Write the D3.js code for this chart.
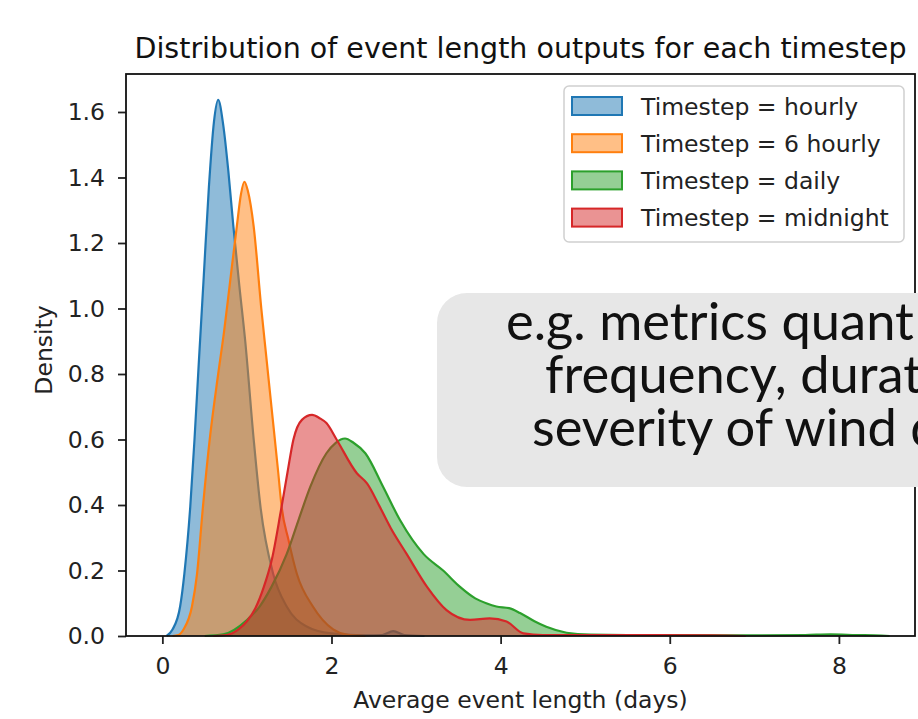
<!DOCTYPE html>
<html>
<head>
<meta charset="utf-8">
<script src="https://cdn.jsdelivr.net/npm/d3@7"></script>
<style>
  body { margin: 0; background: #fff; }
  svg { display: block; }
</style>
</head>
<body>
<div id="chart"></div>
<script>
// densities (x = days, y = density)
const hourlyX = [0.05, 0.12, 0.21, 0.26, 0.33, 0.38, 0.43, 0.49, 0.55, 0.61, 0.66, 0.72, 0.78, 0.84, 0.91, 0.98, 1.08, 1.16, 1.31, 1.47, 1.7, 2.0, 2.4, 2.6, 2.73, 2.86, 3.1];
const hourlyY = [0, 0.02, 0.09, 0.19, 0.395, 0.6, 0.83, 1.1, 1.37, 1.57, 1.637, 1.56, 1.42, 1.25, 1.07, 0.9, 0.6, 0.395, 0.19, 0.09, 0.03, 0.008, 0.002, 0.003, 0.015, 0.003, 0];

const sixHourlyX = [0.12, 0.19, 0.25, 0.35, 0.41, 0.48, 0.56, 0.66, 0.73, 0.8, 0.88, 0.93, 0.97, 1.01, 1.08, 1.17, 1.23, 1.29, 1.37, 1.41, 1.49, 1.59, 1.78, 2.02, 2.18, 2.4];
const sixHourlyY = [0, 0.003, 0.02, 0.09, 0.19, 0.395, 0.6, 0.8, 0.93, 1.08, 1.25, 1.35, 1.387, 1.36, 1.25, 1.0, 0.85, 0.7, 0.5, 0.395, 0.295, 0.19, 0.09, 0.02, 0.004, 0];

const dailyX = [0.5, 0.72, 1.0, 1.15, 1.29, 1.47, 1.61, 1.75, 1.94, 2.05, 2.16, 2.26, 2.4, 2.61, 2.81, 3.09, 3.32, 3.52, 3.7, 3.83, 3.95, 4.1, 4.23, 4.4, 4.54, 4.78, 5.06, 5.5, 6.0, 7.0, 7.6, 7.9, 8.2, 8.5, 8.6];
const dailyY = [0, 0.005, 0.049, 0.09, 0.15, 0.25, 0.354, 0.456, 0.558, 0.59, 0.603, 0.59, 0.558, 0.456, 0.354, 0.25, 0.2, 0.15, 0.115, 0.1, 0.09, 0.085, 0.07, 0.045, 0.028, 0.01, 0.004, 0.003, 0.003, 0.002, 0.003, 0.005, 0.003, 0.001, 0];

const midnightX = [0.6, 0.76, 0.9, 1.0, 1.1, 1.2, 1.3, 1.4, 1.48, 1.55, 1.65, 1.77, 1.86, 1.94, 2.06, 2.3, 2.42, 2.57, 2.7, 2.89, 3.13, 3.36, 3.64, 3.87, 4.07, 4.27, 4.5, 5.5, 6.5, 6.9];
const midnightY = [0, 0.003, 0.02, 0.045, 0.085, 0.15, 0.24, 0.38, 0.5, 0.6, 0.66, 0.675, 0.665, 0.65, 0.6, 0.497, 0.466, 0.395, 0.33, 0.25, 0.15, 0.079, 0.049, 0.054, 0.044, 0.008, 0.003, 0.003, 0.002, 0];

const seriesNames = ["hourly", "6 hourly", "daily", "midnight"];
const seriesColors = ["#1f77b4", "#ff7f0e", "#2ca02c", "#d62728"];
const xTicks = [0, 2, 4, 6, 8];
const yTicks = [0, 0.2, 0.4, 0.6, 0.8, 1.0, 1.2, 1.4, 1.6];
const boxLines = ["e.g. metrics quant", "frequency, durat", "severity of wind d"];

const width = 918;
const height = 719;
const margin = { top: 74, right: 3, bottom: 83, left: 126 };

const series = [
  [hourlyX, hourlyY],
  [sixHourlyX, sixHourlyY],
  [dailyX, dailyY],
  [midnightX, midnightY]
].map(([xs, ys], i) => ({
  name: seriesNames[i],
  color: seriesColors[i],
  values: xs.map((x, j) => ({ x: x, y: ys[j] }))
}));

const svg = d3.select("#chart").append("svg")
  .attr("width", width)
  .attr("height", height)
  .style("font-family", "DejaVu Sans");

const x = d3.scaleLinear()
  .domain([-0.43, 8.9])
  .range([margin.left, width - margin.right]);

const y = d3.scaleLinear()
  .domain([0, 1.716])
  .range([height - margin.bottom, margin.top]);

const area = d3.area()
  .x(d => x(d.x))
  .y0(y(0))
  .y1(d => y(d.y))
  .curve(d3.curveMonotoneX);

const line = d3.line()
  .x(d => x(d.x))
  .y(d => y(d.y))
  .curve(d3.curveMonotoneX);

const plot = svg.append("g");
series.forEach(s => {
  plot.append("path")
    .datum(s.values)
    .attr("d", area)
    .attr("fill", s.color)
    .attr("fill-opacity", 0.5);
  plot.append("path")
    .datum(s.values)
    .attr("d", line)
    .attr("fill", "none")
    .attr("stroke", s.color)
    .attr("stroke-width", 2.2);
});

// axes
function xAxis(g) {
  g.attr("transform", `translate(0,${height - margin.bottom})`)
    .call(d3.axisBottom(x).tickValues(xTicks).tickSize(8).tickPadding(13).tickFormat(d3.format("d")));
}
function yAxis(g) {
  g.attr("transform", `translate(${margin.left},0)`)
    .call(d3.axisLeft(y).tickValues(yTicks).tickSize(8).tickPadding(13).tickFormat(d3.format(".1f")));
}
svg.append("g").call(xAxis);
svg.append("g").call(yAxis);
svg.selectAll(".tick text").attr("font-size", "23.5px").attr("fill", "#222").attr("font-family", "DejaVu Sans");
svg.selectAll(".tick line").attr("stroke", "#222").attr("stroke-width", 1.8);
svg.selectAll(".domain").remove();

svg.append("rect")
  .attr("x", margin.left)
  .attr("y", margin.top)
  .attr("width", width - margin.left - margin.right)
  .attr("height", height - margin.top - margin.bottom)
  .attr("fill", "none")
  .attr("stroke", "#111")
  .attr("stroke-width", 1.8);

// labels
svg.append("text")
  .attr("x", (margin.left + width - margin.right) / 2)
  .attr("y", 708)
  .attr("text-anchor", "middle")
  .attr("font-size", "23.5px")
  .attr("fill", "#222")
  .text("Average event length (days)");

svg.append("text")
  .attr("transform", `translate(52,350) rotate(-90)`)
  .attr("text-anchor", "middle")
  .attr("font-size", "23.5px")
  .attr("fill", "#222")
  .text("Density");

svg.append("text")
  .attr("x", (margin.left + width - margin.right) / 2)
  .attr("y", 58)
  .attr("text-anchor", "middle")
  .attr("font-size", "28.5px")
  .attr("fill", "#111")
  .text("Distribution of event length outputs for each timestep");

// legend
const legend = svg.append("g").attr("transform", "translate(564,86)");
legend.append("rect")
  .attr("width", 340).attr("height", 156).attr("rx", 5)
  .attr("fill", "#fff").attr("fill-opacity", 0.8)
  .attr("stroke", "#d0d0d0").attr("stroke-width", 1.5);
series.forEach((s, i) => {
  const row = legend.append("g").attr("transform", `translate(0,${20 + i * 37.2})`);
  row.append("rect")
    .attr("x", 8).attr("y", -9).attr("width", 50).attr("height", 18)
    .attr("fill", s.color).attr("fill-opacity", 0.5)
    .attr("stroke", s.color).attr("stroke-width", 2);
  row.append("text")
    .attr("x", 77).attr("y", 8.5)
    .attr("font-size", "23.5px").attr("fill", "#222")
    .text("Timestep = " + s.name);
});

// grey note box on top
svg.append("rect")
  .attr("x", 437).attr("y", 293)
  .attr("width", 540).attr("height", 194)
  .attr("rx", 30)
  .attr("fill", "#e7e7e7");

const noteStarts = [506, 545, 532];
const noteBase = [340, 393, 446];
const note = svg.append("g").style("font-family", "Lato");
boxLines.forEach((t, i) => {
  note.append("text")
    .attr("x", noteStarts[i])
    .attr("y", noteBase[i])
    .attr("font-size", "40px")
    .attr("fill", "#111")
    .text(t);
});
// fit first line so it ends near the page edge
const t0 = note.select("text").node().getComputedTextLength();
const fs = 40 * 408 / t0;
note.selectAll("text").attr("font-size", fs + "px");
</script>
</body>
</html>
